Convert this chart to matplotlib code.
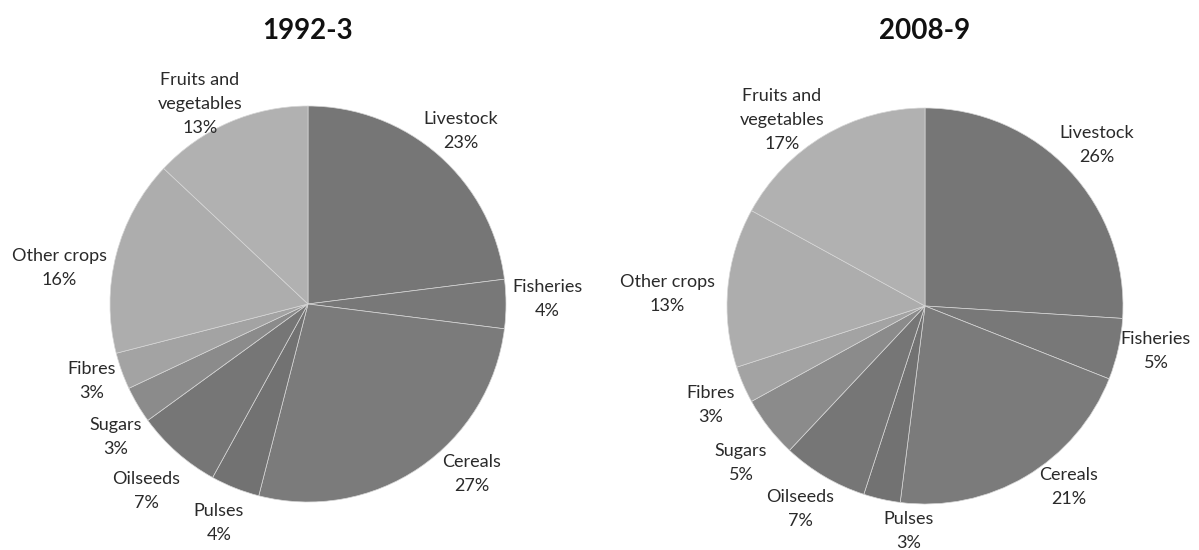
import matplotlib
matplotlib.use("Agg")
import matplotlib.pyplot as plt

categories = ["Livestock", "Fisheries", "Cereals", "Pulses", "Oilseeds",
              "Sugars", "Fibres", "Other crops", "Fruits and\nvegetables"]
values_1992 = [23, 4, 27, 4, 7, 3, 3, 16, 13]
values_2008 = [26, 5, 21, 3, 7, 5, 3, 13, 17]
titles = ["1992-3", "2008-9"]

colors = ["#767676", "#787878", "#7b7b7b", "#727272", "#767676",
          "#8b8b8b", "#a3a3a3", "#adadad", "#b1b1b1"]

# layout (pixels)
W, H = 1199, 550
centers = [(308, 304), (925, 306)]
radius = 198
label_offsets = [
    [(153, 173), (239, 5), (164, -170), (-89, -219), (-162, -187),
     (-192, -133), (-216, -77), (-249, 36), (-108, 200)],
    [(172, 161), (231, -45), (144, -181), (-16, -225), (-125, -203),
     (-184, -157), (-214, -99), (-258, 12), (-143, 186)],
]

fig = plt.figure(figsize=(W / 100, H / 100), dpi=100)
ax = fig.add_axes([0, 0, 1, 1])

font = "Lato"
for k, vals in enumerate([values_1992, values_2008]):
    cx, cy = centers[k]
    ax.pie(vals, colors=colors, startangle=90, counterclock=False,
           center=(cx, H - cy), radius=radius, frame=True,
           wedgeprops=dict(edgecolor="#d6d6d6", linewidth=0.5))
    for cat, v, (dx, dy) in zip(categories, vals, label_offsets[k]):
        ax.text(cx + dx, H - cy + dy, f"{cat}\n{v}%", ha="center", va="center",
                fontsize=13, family=font, color="#2a2a2a", linespacing=1.58,
                multialignment="center")
    ax.text(cx, H - 31, titles[k], ha="center", va="center", fontsize=20,
            fontweight="bold", family=font, color="#111111")

ax.set_xlim(0, W)
ax.set_ylim(0, H)
ax.set_aspect("equal")
ax.axis("off")
fig.savefig("out.png", dpi=100)
